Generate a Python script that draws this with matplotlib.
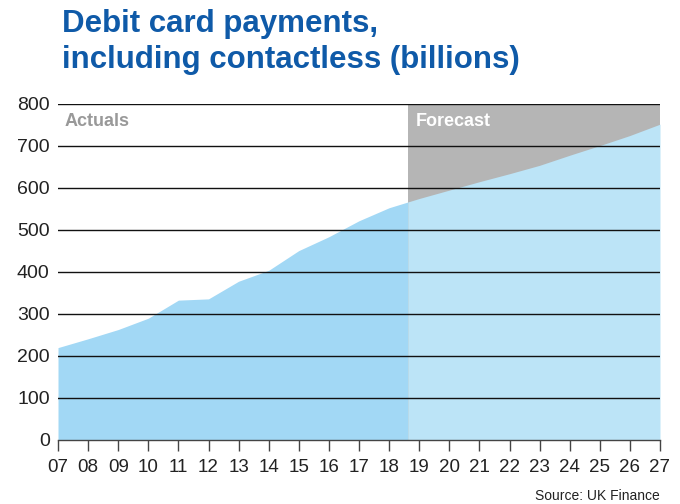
import matplotlib
matplotlib.use("Agg")
import matplotlib.pyplot as plt
import numpy as np

years = [7, 8, 9, 10, 11, 12, 13, 14, 15, 16, 17, 18, 19, 20, 21, 22, 23, 24, 25, 26, 27]
year_labels = ["07", "08", "09", "10", "11", "12", "13", "14", "15", "16", "17", "18",
               "19", "20", "21", "22", "23", "24", "25", "26", "27"]
payments = [220, 241, 263, 290, 333, 336, 378, 404, 451, 484, 522, 553,
            575, 595, 615, 634, 654, 678, 701, 725, 752]
forecast_start = 18.62
y_ticks = [0, 100, 200, 300, 400, 500, 600, 700, 800]

plt.rcParams['font.family'] = ['Liberation Sans', 'DejaVu Sans']

fig = plt.figure(figsize=(6.8, 5.04), dpi=100)
ax = fig.add_axes([58/680, 1-440/504, 602/680, 336/504])

x = np.array(years, dtype=float)
y = np.array(payments, dtype=float)
yb = np.interp(forecast_start, x, y)

# forecast grey background
ax.axvspan(forecast_start, x[-1], color="#b5b5b5", lw=0, zorder=0)

# actual part
m = x < forecast_start
xa = np.append(x[m], forecast_start)
ya = np.append(y[m], yb)
ax.fill_between(xa, 0, ya, color="#a2d8f5", lw=0, zorder=1)
# forecast part
xf = np.insert(x[~m], 0, forecast_start)
yf = np.insert(y[~m], 0, yb)
ax.fill_between(xf, 0, yf, color="#bce4f7", lw=0, zorder=1)

for t in y_ticks[1:]:
    ax.axhline(t, color="#111111", lw=1.0, zorder=2)

ax.set_xlim(x[0], x[-1])
ax.set_ylim(0, 800)
ax.set_yticks(y_ticks)
ax.set_xticks(years)
ax.set_xticklabels(year_labels)
for s in ["top", "right", "left"]:
    ax.spines[s].set_visible(False)
ax.spines["bottom"].set_color("#444444")
ax.spines["bottom"].set_linewidth(1.0)
ax.spines["bottom"].set_zorder(3)
ax.tick_params(axis="y", length=0, labelsize=14, pad=6, labelcolor="#222222")
ax.tick_params(axis="x", length=8, width=1, color="#444444", direction="out",
               labelsize=13.5, pad=6, labelcolor="#222222")

ax.text(7.22, 748, "Actuals", color="#999999", fontsize=13, fontweight="bold",
        va="baseline", ha="left", zorder=4)
ax.text(forecast_start + 0.25, 748, "Forecast", color="white", fontsize=13,
        fontweight="bold", va="baseline", ha="left", zorder=4)

fig.text(62/680, 1-32/504, "Debit card payments,", color="#0f5aa8", fontsize=22.5,
         fontweight="bold", va="baseline", ha="left")
fig.text(62/680, 1-68/504, "including contactless (billions)", color="#0f5aa8",
         fontsize=22.5, fontweight="bold", va="baseline", ha="left")
fig.text(660/680, 1-496/504, "Source: UK Finance", color="#222222", fontsize=10,
         ha="right", va="center")

fig.savefig("out.png", dpi=100)
